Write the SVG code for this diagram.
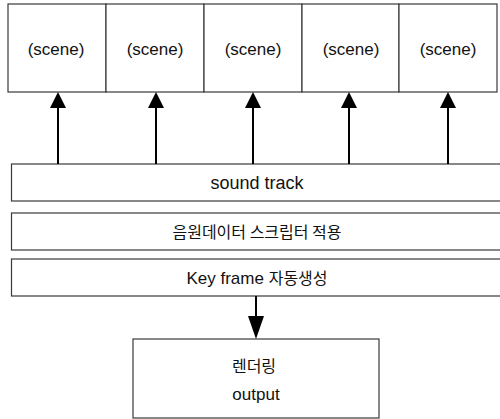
<svg xmlns="http://www.w3.org/2000/svg" width="500" height="419" viewBox="0 0 500 419">
<style>
.box{fill:#fff;stroke:#3a3a3a;stroke-width:1.2}
.t{font-family:"Liberation Sans","Noto Sans CJK KR",sans-serif;fill:#111;text-anchor:middle}
.k{font-family:"Noto Sans CJK KR","Liberation Sans",sans-serif;fill:#111;text-anchor:middle}
.ln{stroke:#000;stroke-width:2;fill:none}
.hd{fill:#000}
</style>
<rect width="500" height="419" fill="#fff"/>
<g id="scene1"><rect class="box" x="8" y="4" width="98" height="88"/><text class="t" x="56" y="55" font-size="17">(scene)</text></g>
<g id="scene2"><rect class="box" x="106" y="4" width="98" height="88"/><text class="t" x="155" y="55" font-size="17">(scene)</text></g>
<g id="scene3"><rect class="box" x="204" y="4" width="98" height="88"/><text class="t" x="253" y="55" font-size="17">(scene)</text></g>
<g id="scene4"><rect class="box" x="302" y="4" width="97" height="88"/><text class="t" x="351" y="55" font-size="17">(scene)</text></g>
<g id="scene5"><rect class="box" x="399" y="4" width="98" height="88"/><text class="t" x="448" y="55" font-size="17">(scene)</text></g>
<g id="soundtrack"><rect class="box" x="11.5" y="164" width="495" height="37"/><text class="t" x="257" y="189" font-size="18">sound track</text></g>
<g id="script"><rect class="box" x="11.5" y="213" width="495" height="37"/><text class="k" x="257" y="238" font-size="16">음원데이터 스크립터 적용</text></g>
<g id="keyframe"><rect class="box" x="11.5" y="259" width="495" height="37"/><text class="k" x="257" y="284" font-size="16"><tspan font-family="Liberation Sans, sans-serif" font-size="17">Key frame </tspan>자동생성</text></g>
<g id="output"><rect class="box" x="133" y="339" width="246" height="79"/><text class="k" x="254" y="372" font-size="16">렌더링</text><text class="t" x="256" y="400" font-size="17">output</text></g>
<g id="connectors">
<line class="ln" x1="58" y1="164" x2="58" y2="106"/><polygon class="hd" points="58,92 50,108 66,108"/>
<line class="ln" x1="156" y1="164" x2="156" y2="106"/><polygon class="hd" points="156,92 148,108 164,108"/>
<line class="ln" x1="253" y1="164" x2="253" y2="106"/><polygon class="hd" points="253,92 245,108 261,108"/>
<line class="ln" x1="349" y1="164" x2="349" y2="106"/><polygon class="hd" points="349,92 341,108 357,108"/>
<line class="ln" x1="448" y1="164" x2="448" y2="106"/><polygon class="hd" points="448,92 440,108 456,108"/>
<line class="ln" x1="256" y1="296" x2="256" y2="318"/><polygon class="hd" points="256,339 248,316 264,316"/>
</g>
</svg>
